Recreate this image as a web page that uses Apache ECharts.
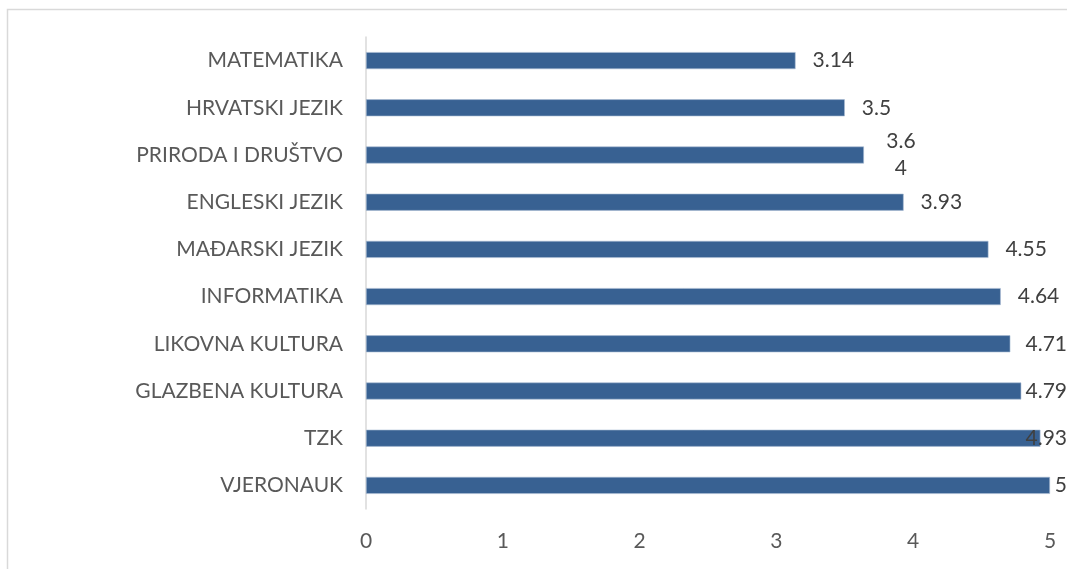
<!DOCTYPE html>
<html>
<head>
<meta charset="utf-8">
<script src="https://cdn.jsdelivr.net/npm/echarts@6/dist/echarts.min.js"></script>
<style>
  html, body { margin: 0; padding: 0; background: #fff; }
  #chart { width: 1067px; height: 569px; }
</style>
</head>
<body>
<div id="chart"></div>
<script>
  // predmeti, odozgo prema dolje
  var subjects = ['MATEMATIKA', 'HRVATSKI JEZIK', 'PRIRODA I DRUŠTVO', 'ENGLESKI JEZIK',
    'MAĐARSKI JEZIK', 'INFORMATIKA', 'LIKOVNA KULTURA', 'GLAZBENA KULTURA', 'TZK', 'VJERONAUK'];
  var grades = [3.14, 3.5, 3.64, 3.93, 4.55, 4.64, 4.71, 4.79, 4.93, 5];
  var xTicks = [0, 1, 2, 3, 4, 5];

  var chartW = 1067;
  var font = 'Lato, "Open Sans", sans-serif';

  // category axis goes bottom->top, so reverse
  var cats = subjects.slice().reverse();
  var vals = grades.slice().reverse().map(function (v) {
    if (v === 3.64) {
      // excel wrapped this label onto two lines
      return { value: v, label: { formatter: '3.6\n4', align: 'center', distance: 37, lineHeight: 27 } };
    }
    return v;
  });

  var chart = echarts.init(document.getElementById('chart'));

  chart.setOption({
    animation: false,
    graphic: [{
      type: 'rect',
      shape: { x: 7.5, y: 9.5, width: 1200, height: 700 },
      style: { fill: 'none', stroke: '#d9d9d9', lineWidth: 1.5 },
      silent: true
    }],
    grid: { left: 366, right: 17, top: 37, bottom: 60 },
    xAxis: {
      type: 'value',
      min: xTicks[0],
      max: xTicks[xTicks.length - 1],
      interval: 1,
      axisLine: { show: false },
      axisTick: { show: false },
      splitLine: { show: false },
      axisLabel: { color: '#595959', fontSize: 21, fontFamily: font, margin: 22 }
    },
    yAxis: {
      type: 'category',
      data: cats,
      axisLine: { show: true, lineStyle: { color: '#d9d9d9', width: 1.5 } },
      axisTick: { show: false },
      axisLabel: { color: '#595959', fontSize: 21, fontFamily: font, margin: 23 }
    },
    series: [{
      type: 'bar',
      data: vals,
      barWidth: 17,
      itemStyle: { color: '#386192', borderColor: '#a9bcd4', borderWidth: 0.6 },
      label: {
        show: true,
        position: 'right',
        distance: 17,
        color: '#404040',
        fontSize: 21,
        fontFamily: font
      },
      labelLayout: function (p) {
        // keep labels inside the picture like excel does
        var r = p.labelRect;
        if (r.x + r.width > chartW) {
          return { x: chartW - r.width, y: r.y, align: 'left', verticalAlign: 'top' };
        }
        return {};
      }
    }]
  });
</script>
</body>
</html>
